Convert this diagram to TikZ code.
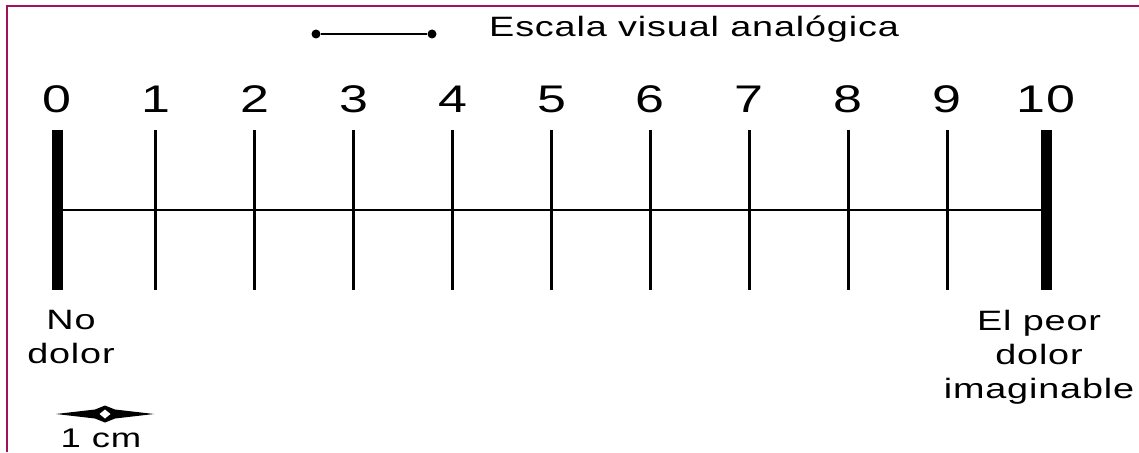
\documentclass[tikz,border=0pt]{standalone}
\usepackage{fontspec}
\setmainfont{Liberation Sans}[FakeStretch=1.35,LetterSpace=3]
\definecolor{framered}{RGB}{162,18,92}
\newcommand{\evafont}{\fontsize{28}{34}\selectfont}

\begin{document}
\begin{tikzpicture}[x=1pt,y=-1pt,
  thintick/.style={line width=3pt},
  thicktick/.style={line width=11pt},
  ticknum/.style={inner sep=0pt,anchor=base,font=\fontsize{38.5}{40}\selectfont},
  endlabel/.style={inner sep=0pt,anchor=base,align=center,font=\evafont},
  legdot/.style={circle,fill=black,inner sep=0pt,minimum size=9pt}]
\useasboundingbox (0,0) rectangle (1139,452);
\fill[white] (0,0) rectangle (1139,452);
\draw[framered, line width=2.5pt] (7,452) -- (7,6) -- (1139,6);
\node[legdot] (legl) at (316,34) {};
\node[legdot] (legr) at (432,34) {};
\draw[line width=2pt] (legl) -- (legr);
\node[inner sep=0pt,anchor=base west,font=\evafont] (title) at (489,37) {Escala visual analógica};
\coordinate (m0) at (57,210);
\coordinate (m10) at (1046,210);
\draw[line width=2.5pt] (m0) -- (m10);
\draw[thicktick] (57,130) -- (57,290);
\draw[thintick] (155.9,130) -- (155.9,290);
\draw[thintick] (254.8,130) -- (254.8,290);
\draw[thintick] (353.7,130) -- (353.7,290);
\draw[thintick] (452.6,130) -- (452.6,290);
\draw[thintick] (551.5,130) -- (551.5,290);
\draw[thintick] (650.4,130) -- (650.4,290);
\draw[thintick] (749.3,130) -- (749.3,290);
\draw[thintick] (848.2,130) -- (848.2,290);
\draw[thintick] (947.1,130) -- (947.1,290);
\draw[thicktick] (1046,130) -- (1046,290);
\node[ticknum] (n0) at (57,112) {0};
\node[ticknum] (n1) at (155.9,112) {1};
\node[ticknum] (n2) at (254.8,112) {2};
\node[ticknum] (n3) at (353.7,112) {3};
\node[ticknum] (n4) at (452.6,112) {4};
\node[ticknum] (n5) at (551.5,112) {5};
\node[ticknum] (n6) at (650.4,112) {6};
\node[ticknum] (n7) at (749.3,112) {7};
\node[ticknum] (n8) at (848.2,112) {8};
\node[ticknum] (n9) at (947.1,112) {9};
\node[ticknum] (n10) at (1046,112) {10};
\node[endlabel] (nopain) at (71,363) {No\\dolor};
\node[endlabel] (worst) at (1039,398) {El peor\\dolor\\imaginable};
\fill (56,414) .. controls (75,411.5) .. (95,409.5) -- (105,405.5) -- (115,409.5) .. controls (135,411.5) .. (154,414) .. controls (135,416.5) .. (115,418.5) -- (105,422.5) -- (95,418.5) .. controls (75,416.5) .. (56,414) -- cycle;
\fill[white] (105,409.5) -- (110.5,414) -- (105,418.5) -- (99.5,414) -- cycle;
\node[inner sep=0pt,anchor=base,font=\fontsize{27}{30}\selectfont] (onecm) at (101,447) {1 cm};
\end{tikzpicture}
\end{document}
